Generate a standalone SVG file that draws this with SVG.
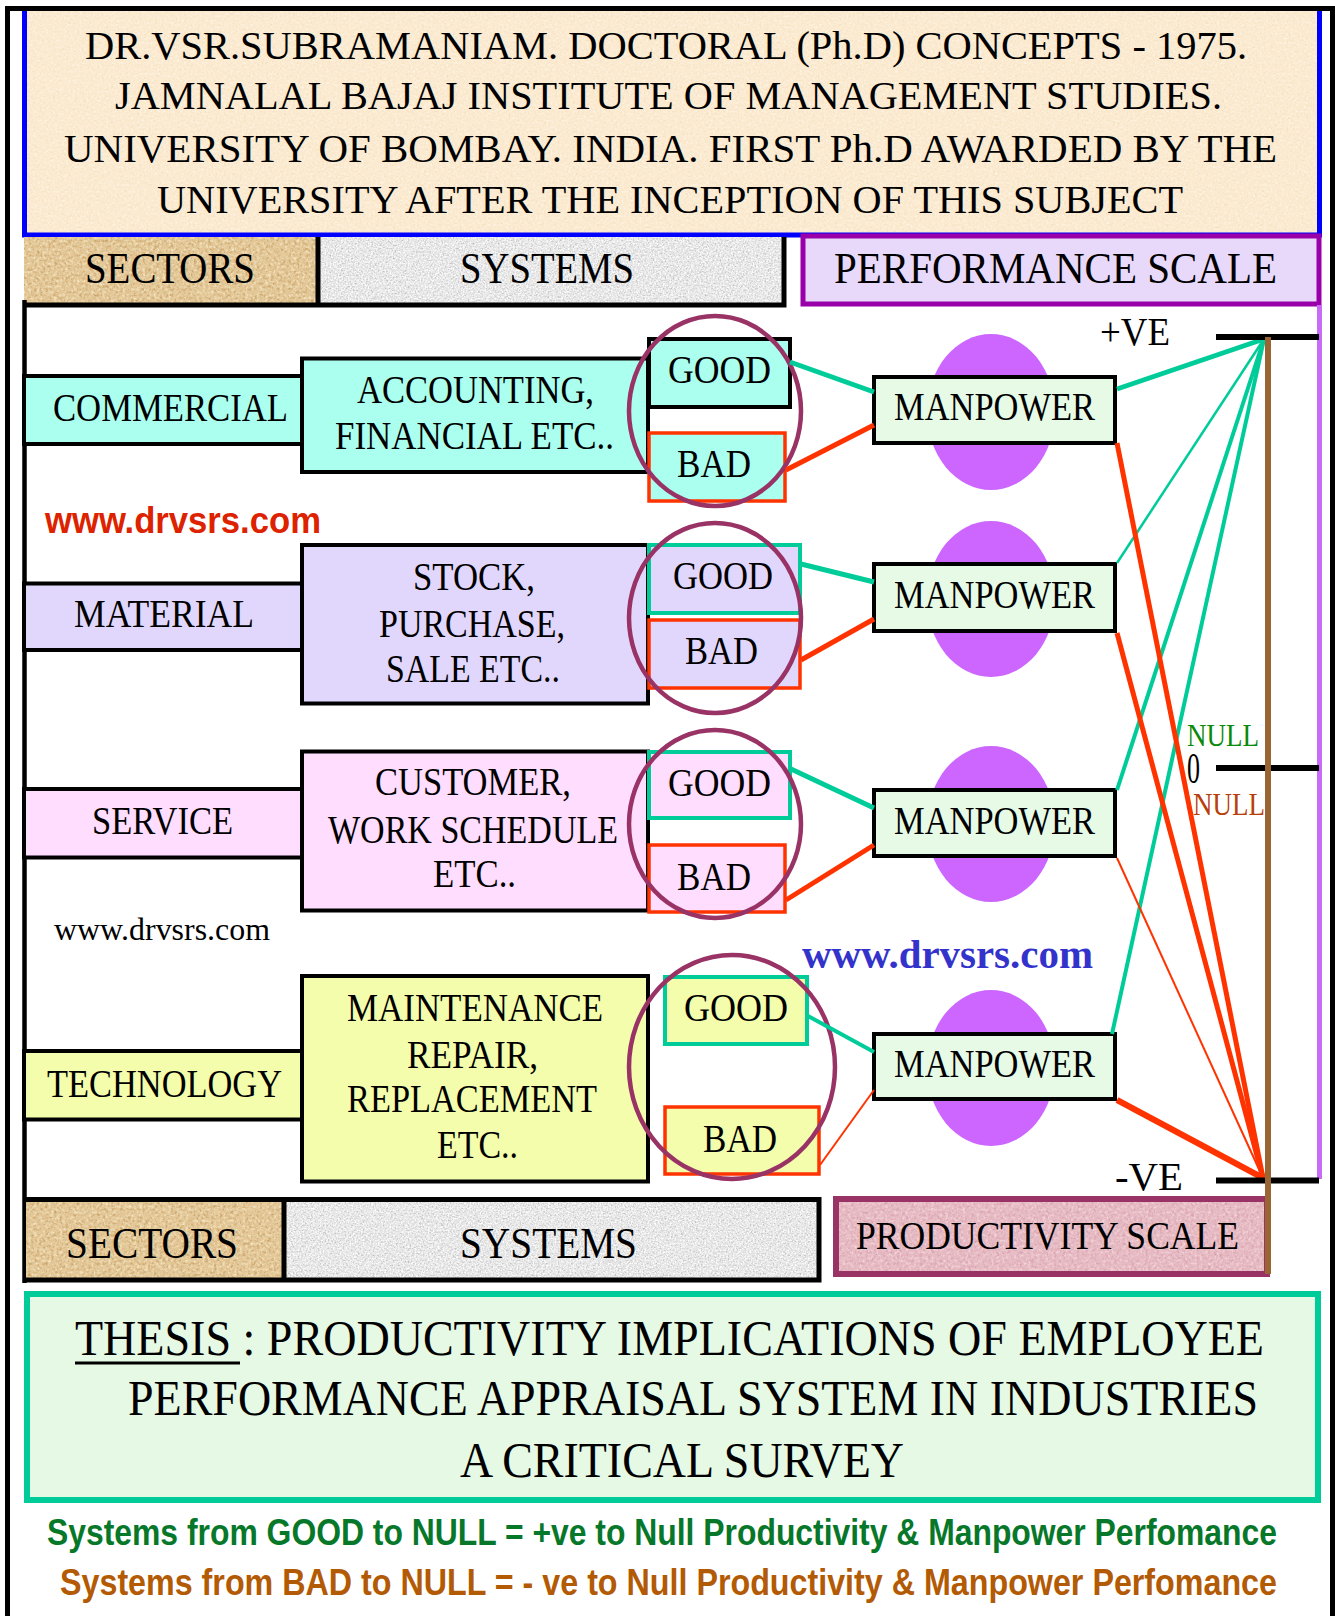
<svg xmlns="http://www.w3.org/2000/svg" width="1335" height="1616" viewBox="0 0 1335 1616">
<defs>
<style>
.s{font-family:"Liberation Serif","Times New Roman",serif;fill:#000}
.b{font-family:"Liberation Sans",Arial,sans-serif;font-weight:bold}
.box{stroke:#000;stroke-width:4}
.mint{fill:#AAFFEE}.lav{fill:#E1D7FD}.pink{fill:#FFDDFF}.yel{fill:#F3FDAB}
.good{stroke:#00CC99;stroke-width:4}
.bad{stroke:#FF3300;stroke-width:3.5}
.ring{fill:none;stroke:#993366;stroke-width:4.5}
.mp{fill:#E6FAE6;stroke:#000;stroke-width:4}
.blob{fill:#CC66FF}
.tl{stroke:#00CC99;fill:none}
.rl{stroke:#FF3300;fill:none}
</style>
<filter id="fTitle" x="0" y="0" width="1" height="1" color-interpolation-filters="sRGB">
<feTurbulence type="fractalNoise" baseFrequency="0.45" numOctaves="2" seed="4" result="n"/>
<feColorMatrix in="n" type="matrix" values="0 0 0 0 0.94  0 0 0 0 0.86  0 0 0 0 0.72  2 0 0 0 -1.05" result="d"/>
<feColorMatrix in="n" type="matrix" values="0 0 0 0 1  0 0 0 0 0.98  0 0 0 0 0.94  0 2 0 0 -1.0" result="l"/>
<feMerge><feMergeNode in="SourceGraphic"/><feMergeNode in="d"/><feMergeNode in="l"/></feMerge>
</filter>
<filter id="fSec" x="0" y="0" width="1" height="1" color-interpolation-filters="sRGB">
<feTurbulence type="fractalNoise" baseFrequency="0.35" numOctaves="3" seed="2" result="n"/>
<feColorMatrix in="n" type="matrix" values="0 0 0 0 0.78  0 0 0 0 0.63  0 0 0 0 0.40  2.5 0 0 0 -1.15" result="d"/>
<feColorMatrix in="n" type="matrix" values="0 0 0 0 0.96  0 0 0 0 0.9  0 0 0 0 0.76  0 2.5 0 0 -1.15" result="l"/>
<feMerge><feMergeNode in="SourceGraphic"/><feMergeNode in="d"/><feMergeNode in="l"/></feMerge>
</filter>
<filter id="fSys" x="0" y="0" width="1" height="1" color-interpolation-filters="sRGB">
<feTurbulence type="fractalNoise" baseFrequency="0.6" numOctaves="3" seed="7" result="n"/>
<feColorMatrix in="n" type="matrix" values="0 0 0 0 0.75  0 0 0 0 0.75  0 0 0 0 0.75  2.5 0 0 0 -1.1" result="d"/>
<feColorMatrix in="n" type="matrix" values="0 0 0 0 1  0 0 0 0 1  0 0 0 0 1  0 2.5 0 0 -1.0" result="l"/>
<feMerge><feMergeNode in="SourceGraphic"/><feMergeNode in="d"/><feMergeNode in="l"/></feMerge>
</filter>
<filter id="fPro" x="0" y="0" width="1" height="1" color-interpolation-filters="sRGB">
<feTurbulence type="fractalNoise" baseFrequency="0.35" numOctaves="3" seed="9" result="n"/>
<feColorMatrix in="n" type="matrix" values="0 0 0 0 0.84  0 0 0 0 0.62  0 0 0 0 0.68  2.5 0 0 0 -1.15" result="d"/>
<feColorMatrix in="n" type="matrix" values="0 0 0 0 0.96  0 0 0 0 0.84  0 0 0 0 0.86  0 2.5 0 0 -1.15" result="l"/>
<feMerge><feMergeNode in="SourceGraphic"/><feMergeNode in="d"/><feMergeNode in="l"/></feMerge>
</filter>
</defs>
<rect width="1335" height="1616" fill="#fff"/>

<!-- Title -->
<g id="title">
<rect x="24.5" y="9" width="1295" height="226" fill="#FBEAD0" filter="url(#fTitle)"/>
<path d="M24.5 9 V235 H1319.5 V9" fill="none" stroke="#0000FF" stroke-width="5"/>
<text class="s" font-size="32" transform="translate(85,59) scale(1,1.25)" x="0" y="0" textLength="1162" lengthAdjust="spacingAndGlyphs">DR.VSR.SUBRAMANIAM. DOCTORAL (Ph.D) CONCEPTS - 1975.</text>
<text class="s" font-size="32" transform="translate(115,109) scale(1,1.25)" x="0" y="0" textLength="1107" lengthAdjust="spacingAndGlyphs">JAMNALAL BAJAJ INSTITUTE OF MANAGEMENT STUDIES.</text>
<text class="s" font-size="32" transform="translate(64,162) scale(1,1.25)" x="0" y="0" textLength="1213" lengthAdjust="spacingAndGlyphs">UNIVERSITY OF BOMBAY. INDIA. FIRST Ph.D AWARDED BY THE</text>
<text class="s" font-size="32" transform="translate(157,213) scale(1,1.25)" x="0" y="0" textLength="1026" lengthAdjust="spacingAndGlyphs">UNIVERSITY AFTER THE INCEPTION OF THIS SUBJECT</text>
</g>

<!-- Header row -->
<g id="hdr-sectors">
<rect x="24" y="237" width="294" height="66" fill="#E3C797" filter="url(#fSec)"/>
<text class="s" font-size="44" x="85" y="283" textLength="170" lengthAdjust="spacingAndGlyphs">SECTORS</text>
</g>
<g id="hdr-systems">
<rect x="318" y="237" width="464" height="66" fill="#E6E6E6" filter="url(#fSys)"/>
<text class="s" font-size="44" x="460" y="283" textLength="174" lengthAdjust="spacingAndGlyphs">SYSTEMS</text>
</g>
<path d="M318 237 V305 M24.5 305 H784 V237" fill="none" stroke="#000" stroke-width="5"/>
<g id="hdr-performance">
<rect x="803" y="236" width="516" height="68" fill="#E8D9FB" stroke="#9900AA" stroke-width="5"/>
<text class="s" font-size="40" transform="translate(834,283) scale(1,1.1)" x="0" y="0" textLength="443" lengthAdjust="spacingAndGlyphs">PERFORMANCE  SCALE</text>
</g>

<!-- main left line -->
<path d="M24.5 300 V1283" stroke="#000" stroke-width="4.5" fill="none"/>

<!-- blobs -->
<g id="blobs">
<ellipse class="blob" cx="991" cy="412" rx="64" ry="78"/>
<ellipse class="blob" cx="991" cy="599" rx="64" ry="78"/>
<ellipse class="blob" cx="991" cy="824" rx="64" ry="78"/>
<ellipse class="blob" cx="991" cy="1068" rx="64" ry="78"/>
</g>

<!-- Sectors -->
<g id="sector-commercial"><rect class="box mint" x="24" y="376" width="278" height="68"/>
<text class="s" font-size="41" x="53" y="421" textLength="235" lengthAdjust="spacingAndGlyphs">COMMERCIAL</text></g>
<g id="sector-material"><rect class="box lav" x="24" y="583.5" width="278" height="66.5"/>
<text class="s" font-size="41" x="74" y="627" textLength="180" lengthAdjust="spacingAndGlyphs">MATERIAL</text></g>
<g id="sector-service"><rect class="box pink" x="24" y="789" width="278" height="68.5"/>
<text class="s" font-size="41" x="92" y="834" textLength="141" lengthAdjust="spacingAndGlyphs">SERVICE</text></g>
<g id="sector-technology"><rect class="box yel" x="24" y="1051" width="278" height="68.5"/>
<text class="s" font-size="41" x="47" y="1097" textLength="235" lengthAdjust="spacingAndGlyphs">TECHNOLOGY</text></g>

<!-- Systems -->
<g id="sys-accounting"><rect class="box mint" x="302" y="358.5" width="346" height="113.5"/>
<text class="s" font-size="41" x="357" y="403" textLength="237" lengthAdjust="spacingAndGlyphs">ACCOUNTING,</text>
<text class="s" font-size="41" x="335" y="449" textLength="279" lengthAdjust="spacingAndGlyphs">FINANCIAL ETC..</text></g>
<g id="sys-stock"><rect class="box lav" x="302" y="545" width="346" height="158.5"/>
<text class="s" font-size="41" x="413" y="590" textLength="122" lengthAdjust="spacingAndGlyphs">STOCK,</text>
<text class="s" font-size="41" x="379" y="637" textLength="186" lengthAdjust="spacingAndGlyphs">PURCHASE,</text>
<text class="s" font-size="41" x="386" y="682" textLength="174" lengthAdjust="spacingAndGlyphs">SALE ETC..</text></g>
<g id="sys-customer"><rect class="box pink" x="302" y="751.5" width="346" height="159"/>
<text class="s" font-size="41" x="375" y="795" textLength="196" lengthAdjust="spacingAndGlyphs">CUSTOMER,</text>
<text class="s" font-size="41" x="328" y="843" textLength="290" lengthAdjust="spacingAndGlyphs">WORK SCHEDULE</text>
<text class="s" font-size="41" x="433" y="887" textLength="83" lengthAdjust="spacingAndGlyphs">ETC..</text></g>
<g id="sys-maintenance"><rect class="box yel" x="302" y="976" width="346" height="205.5"/>
<text class="s" font-size="41" x="347" y="1021" textLength="256" lengthAdjust="spacingAndGlyphs">MAINTENANCE</text>
<text class="s" font-size="41" x="407" y="1068" textLength="131" lengthAdjust="spacingAndGlyphs">REPAIR,</text>
<text class="s" font-size="41" x="347" y="1112" textLength="250" lengthAdjust="spacingAndGlyphs">REPLACEMENT</text>
<text class="s" font-size="41" x="437" y="1158" textLength="81" lengthAdjust="spacingAndGlyphs">ETC..</text></g>

<!-- Good / Bad -->
<g id="good-1"><rect class="box mint" x="649" y="339" width="141" height="68"/>
<text class="s" font-size="40" x="668" y="383" textLength="103" lengthAdjust="spacingAndGlyphs">GOOD</text></g>
<g id="bad-1"><rect class="bad mint" x="649" y="433" width="136" height="68"/>
<text class="s" font-size="40" x="677" y="477" textLength="74" lengthAdjust="spacingAndGlyphs">BAD</text></g>
<g id="good-2"><rect class="good lav" x="649" y="545" width="151" height="68"/>
<text class="s" font-size="40" x="673" y="589" textLength="100" lengthAdjust="spacingAndGlyphs">GOOD</text></g>
<g id="bad-2"><rect class="bad lav" x="649" y="620" width="151" height="68"/>
<text class="s" font-size="40" x="685" y="664" textLength="73" lengthAdjust="spacingAndGlyphs">BAD</text></g>
<g id="good-3"><rect class="good pink" x="649" y="752" width="141" height="66"/>
<text class="s" font-size="40" x="668" y="796" textLength="103" lengthAdjust="spacingAndGlyphs">GOOD</text></g>
<g id="bad-3"><rect class="bad pink" x="649" y="845" width="136" height="67"/>
<text class="s" font-size="40" x="677" y="890" textLength="74" lengthAdjust="spacingAndGlyphs">BAD</text></g>
<g id="good-4"><rect class="good yel" x="665" y="977" width="142" height="67"/>
<text class="s" font-size="40" x="684" y="1021" textLength="104" lengthAdjust="spacingAndGlyphs">GOOD</text></g>
<g id="bad-4"><rect class="bad yel" x="665" y="1107" width="154" height="67"/>
<text class="s" font-size="40" x="703" y="1152" textLength="74" lengthAdjust="spacingAndGlyphs">BAD</text></g>

<!-- rings -->
<g id="rings">
<ellipse class="ring" cx="715" cy="411" rx="86" ry="95"/>
<ellipse class="ring" cx="715" cy="618" rx="86" ry="95"/>
<ellipse class="ring" cx="715" cy="824" rx="86" ry="94"/>
<ellipse class="ring" cx="732" cy="1067" rx="103" ry="112"/>
</g>

<!-- Manpower -->
<g id="manpower-1"><rect class="mp" x="874" y="377" width="241" height="66"/>
<text class="s" font-size="40" x="894" y="420" textLength="201" lengthAdjust="spacingAndGlyphs">MANPOWER</text></g>
<g id="manpower-2"><rect class="mp" x="874" y="564" width="241" height="67"/>
<text class="s" font-size="40" x="894" y="608" textLength="201" lengthAdjust="spacingAndGlyphs">MANPOWER</text></g>
<g id="manpower-3"><rect class="mp" x="874" y="790" width="241" height="66"/>
<text class="s" font-size="40" x="894" y="834" textLength="201" lengthAdjust="spacingAndGlyphs">MANPOWER</text></g>
<g id="manpower-4"><rect class="mp" x="874" y="1034" width="241" height="65"/>
<text class="s" font-size="40" x="894" y="1077" textLength="201" lengthAdjust="spacingAndGlyphs">MANPOWER</text></g>

<!-- connectors -->
<g id="connectors">
<path class="tl" stroke-width="5" d="M790 362 L874 392"/>
<path class="rl" stroke-width="5" d="M786 470 L874 425"/>
<path class="tl" stroke-width="5" d="M801 564 L874 582"/>
<path class="rl" stroke-width="5" d="M801 660 L874 619"/>
<path class="tl" stroke-width="5" d="M791 769 L874 808"/>
<path class="rl" stroke-width="5" d="M786 900 L874 845"/>
<path class="tl" stroke-width="4" d="M808 1016 L874 1052"/>
<path class="rl" stroke-width="2" d="M820 1165 L874 1090"/>
<path class="tl" stroke-width="5" d="M1117 389 L1264 339"/>
<path class="tl" stroke-width="2.5" d="M1117 563 L1264 339"/>
<path class="tl" stroke-width="4" d="M1117 790 L1264 339"/>
<path class="tl" stroke-width="4" d="M1112 1034 L1264 339"/>
<path class="rl" stroke-width="5" d="M1117 443 L1263 1178"/>
<path class="rl" stroke-width="5" d="M1117 633 L1263 1178"/>
<path class="rl" stroke-width="2" d="M1117 858 L1263 1178"/>
<path class="rl" stroke-width="6" d="M1117 1100 L1263 1178"/>
</g>

<!-- scale -->
<g id="scale">
<path d="M1319.5 305 V1179" stroke="#C86BF7" stroke-width="5" fill="none"/>
<path d="M1216 337 H1319 M1216 768 H1319 M1216 1180.5 H1319" stroke="#000" stroke-width="6" fill="none"/>
<path d="M1268 337 V1274" stroke="#996633" stroke-width="6" fill="none"/>
<text class="s" font-size="40" x="1100" y="345" textLength="70" lengthAdjust="spacingAndGlyphs">+VE</text>
<text class="s" font-size="26" transform="translate(1187,746) scale(1,1.25)" x="0" y="0" textLength="72" lengthAdjust="spacingAndGlyphs" style="fill:#0A8A0A">NULL</text>
<text class="s" font-size="24" transform="translate(1187,783) scale(1,1.85)" x="0" y="0" textLength="13" lengthAdjust="spacingAndGlyphs">0</text>
<text class="s" font-size="26" transform="translate(1193,815) scale(1,1.25)" x="0" y="0" textLength="72" lengthAdjust="spacingAndGlyphs" style="fill:#B8400C">NULL</text>
<text class="s" font-size="40" x="1115" y="1190" textLength="68" lengthAdjust="spacingAndGlyphs">-VE</text>
</g>

<!-- watermarks -->
<text class="b" font-size="36" x="45" y="533" textLength="276" lengthAdjust="spacingAndGlyphs" fill="#DD2200">www.drvsrs.com</text>
<text class="s" font-size="31" x="54" y="940" textLength="216" lengthAdjust="spacingAndGlyphs">www.drvsrs.com</text>
<text class="s" font-size="40" font-weight="bold" x="802" y="968" textLength="291" lengthAdjust="spacingAndGlyphs" style="fill:#3333CC">www.drvsrs.com</text>

<!-- lower header -->
<g id="ftr-sectors">
<rect x="26" y="1201" width="258" height="77" fill="#E3C797" filter="url(#fSec)"/>
<text class="s" font-size="45" x="66" y="1258" textLength="172" lengthAdjust="spacingAndGlyphs">SECTORS</text>
</g>
<g id="ftr-systems">
<rect x="284" y="1201" width="535" height="77" fill="#E6E6E6" filter="url(#fSys)"/>
<text class="s" font-size="45" x="460" y="1258" textLength="177" lengthAdjust="spacingAndGlyphs">SYSTEMS</text>
</g>
<path d="M24.5 1199.5 H819 V1280 H24.5 M284 1199.5 V1280" fill="none" stroke="#000" stroke-width="5"/>
<g id="ftr-productivity">
<rect x="836" y="1199" width="431" height="75" fill="#E6BAC2" filter="url(#fPro)"/>
<rect x="836" y="1199" width="431" height="75" fill="none" stroke="#993366" stroke-width="6"/>
<text class="s" font-size="36" transform="translate(856,1249) scale(1,1.11)" x="0" y="0" textLength="383" lengthAdjust="spacingAndGlyphs">PRODUCTIVITY SCALE</text>
</g>
<path d="M1268 1180 V1274" stroke="#996633" stroke-width="6" fill="none"/>

<!-- thesis -->
<g id="thesis">
<rect x="27" y="1294" width="1291" height="206" fill="#E5F9E5" stroke="#00CC99" stroke-width="6"/>
<text class="s" font-size="38" transform="translate(75,1355) scale(1,1.316)" x="0" y="0" textLength="1189" lengthAdjust="spacingAndGlyphs">THESIS : PRODUCTIVITY IMPLICATIONS OF EMPLOYEE</text>
<path d="M75 1363 H240" stroke="#000" stroke-width="3"/>
<text class="s" font-size="38" transform="translate(128,1415) scale(1,1.316)" x="0" y="0" textLength="1130" lengthAdjust="spacingAndGlyphs">PERFORMANCE APPRAISAL SYSTEM IN INDUSTRIES</text>
<text class="s" font-size="50" x="460" y="1477" textLength="444" lengthAdjust="spacingAndGlyphs">A CRITICAL SURVEY</text>
</g>

<!-- legend -->
<g id="legend">
<text class="b" font-size="28" transform="translate(47,1545) scale(1,1.32)" x="0" y="0" textLength="1230" lengthAdjust="spacingAndGlyphs" fill="#07782A">Systems from GOOD to NULL = +ve to Null Productivity &amp; Manpower Perfomance</text>
<text class="b" font-size="28" transform="translate(60,1595) scale(1,1.32)" x="0" y="0" textLength="1217" lengthAdjust="spacingAndGlyphs" fill="#B35A05">Systems from BAD  to NULL = - ve  to Null Productivity &amp; Manpower Perfomance</text>
</g>

<!-- outer frame -->
<path d="M7.5 1616 V8.5 H1332.5 V1616" fill="none" stroke="#000" stroke-width="5"/>
</svg>
